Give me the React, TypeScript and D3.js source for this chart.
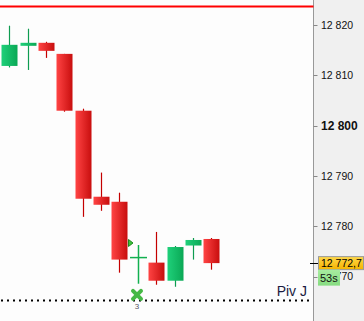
import React from "react";
import * as d3 from "d3";

const opens = [12811.9, 12815.9, 12816.5, 12814.3, 12803.0, 12785.9, 12784.9, 12773.7, 12772.8, 12769.2, 12776.2, 12777.5];
const highs = [12819.9, 12819.3, 12816.7, 12814.3, 12803.4, 12790.7, 12786.7, 12776.3, 12778.9, 12776.1, 12777.7, 12777.7];
const lows = [12811.6, 12811.1, 12813.5, 12802.8, 12781.9, 12783.1, 12770.8, 12768.6, 12768.4, 12768.0, 12773.4, 12771.4];
const closes = [12816.1, 12816.5, 12814.9, 12803.0, 12785.5, 12784.3, 12773.4, 12773.8, 12769.2, 12775.9, 12777.3, 12772.7];
const tickValues = [12770, 12780, 12790, 12800, 12810, 12820];
const tickLabels = ["12 770", "12 780", "12 790", "12 800", "12 810", "12 820"];
const boldTick = 12800;
const redLevel = 12823.7;
const pivotLevel = 12765.4;
const pivotLabel = "Piv J";
const lastPrice = 12772.7;
const lastPriceLabel = "12 772,7";
const timerLabel = "53s";
const signalIndex = 6; // green triangle marker
const crossIndex = 7; // X marker
const crossLabel = "3";

const W = 364;
const H = 321;
const axisX = 313.5;

export default function App() {
  const y = d3.scaleLinear().domain([12770, 12820]).range([276.7, 25.2]);
  const x = d3.scaleLinear().domain([0, 11]).range([9.3, 211.3]);
  const bw = 16;
  const cx = (i: number) => Math.round(x(i)) + 0.5;

  return (
    <svg
      width={W}
      height={H}
      style={{ position: "absolute", left: 0, top: 0, display: "block" }}
      fontFamily="'Liberation Sans', Arial, sans-serif"
    >
      <defs>
        <linearGradient id="gRed" x1="0" x2="1" y1="0" y2="0">
          <stop offset="0" stopColor="#ff4444" />
          <stop offset="1" stopColor="#c80e0e" />
        </linearGradient>
        <linearGradient id="gGreen" x1="0" x2="1" y1="0" y2="0">
          <stop offset="0" stopColor="#1fd07a" />
          <stop offset="1" stopColor="#0aa855" />
        </linearGradient>
        <linearGradient id="gYellow" x1="0" x2="0" y1="0" y2="1">
          <stop offset="0" stopColor="#ffd84a" />
          <stop offset="1" stopColor="#f4b400" />
        </linearGradient>
        <linearGradient id="gTimer" x1="0" x2="0" y1="0" y2="1">
          <stop offset="0" stopColor="#a8eca0" />
          <stop offset="1" stopColor="#86dc80" />
        </linearGradient>
      </defs>
      <rect x={0} y={0} width={W} height={H} fill="#fdfdfd" />
      <rect x={axisX} y={0} width={W - axisX} height={H} fill="#f0f0f0" />
      <line x1={axisX} x2={axisX} y1={0} y2={H} stroke="#999" strokeWidth={1} />

      {/* red resistance line */}
      <line x1={0} x2={axisX} y1={y(redLevel)} y2={y(redLevel)} stroke="#ff0000" strokeWidth={2} />

      {/* pivot dotted line */}
      <line
        x1={1}
        x2={310}
        y1={Math.round(y(pivotLevel)) + 0.5}
        y2={Math.round(y(pivotLevel)) + 0.5}
        stroke="#000"
        strokeWidth={2}
        strokeDasharray="2,4"
      />
      <text x={307} y={296} textAnchor="end" fontSize={14} fill="#1a1a40">
        {pivotLabel}
      </text>

      {/* candles */}
      {opens.map((o, i) => {
        const c = closes[i];
        const up = c >= o;
        const top = y(Math.max(o, c));
        const bot = y(Math.min(o, c));
        const h = Math.max(bot - top, 1);
        const xc = cx(i);
        const wick = up ? "#0e9c50" : "#c40000";
        if (Math.abs(c - o) < 0.2) {
          // doji cross
          return (
            <g key={i}>
              <line x1={xc} x2={xc} y1={y(highs[i])} y2={y(lows[i])} stroke="#12b050" strokeWidth={1.5} />
              <line x1={xc - 8.5} x2={xc + 8.5} y1={top} y2={top} stroke="#12b050" strokeWidth={1.5} />
            </g>
          );
        }
        return (
          <g key={i}>
            <line x1={xc} x2={xc} y1={y(highs[i])} y2={y(lows[i])} stroke={wick} strokeWidth={1.2} />
            <rect x={xc - bw / 2} y={top} width={bw} height={h} fill={up ? "url(#gGreen)" : "url(#gRed)"} />
          </g>
        );
      })}

      {/* signal triangle */}
      {(() => {
        const xs = cx(signalIndex) + bw / 2 + 1;
        const ys = y(12776.7);
        return (
          <path
            d={`M${xs},${ys - 3.5} L${xs + 4.5},${ys} L${xs},${ys + 3.5} Z`}
            fill="#3cc43c"
            stroke="#1e8a1e"
            strokeWidth={1}
          />
        );
      })()}

      {/* X marker */}
      {(() => {
        const xc = cx(crossIndex) - 1.5;
        const yc = y(pivotLevel) - 5;
        const r = 4;
        return (
          <g>
            <path
              d={`M${xc - r},${yc - r} L${xc + r},${yc + r} M${xc + r},${yc - r} L${xc - r},${yc + r}`}
              stroke="#44b844"
              strokeWidth={4}
              strokeLinecap="round"
            />
            <text x={xc} y={yc + 14} textAnchor="middle" fontSize={8} fill="#556">
              {crossLabel}
            </text>
          </g>
        );
      })()}

      {/* axis ticks and labels */}
      {tickValues.map((v, i) => (
        <g key={v}>
          <line x1={axisX} x2={axisX + 4} y1={Math.round(y(v)) + 0.5} y2={Math.round(y(v)) + 0.5} stroke="#888" />
          <text
            x={321}
            y={y(v)}
            dy="0.36em"
            fontSize={v === boldTick ? 12 : 10.5}
            fontWeight={v === boldTick ? "bold" : "normal"}
            fill="#111"
          >
            {tickLabels[i]}
          </text>
        </g>
      ))}

      {/* last price label */}
      <line x1={310} x2={318} y1={Math.round(y(lastPrice)) + 0.5} y2={Math.round(y(lastPrice)) + 0.5} stroke="#000" />
      <rect x={318.5} y={y(lastPrice) - 6.5} width={45} height={13} fill="url(#gYellow)" stroke="#999" />
      <text x={321} y={y(lastPrice)} dy="0.36em" fontSize={10.5} fill="#000">
        {lastPriceLabel}
      </text>
      <rect x={318} y={y(lastPrice) + 6.5} width={22} height={16} fill="url(#gTimer)" />
      <text x={320} y={y(lastPrice) + 14.5} dy="0.36em" fontSize={11} fill="#111">
        {timerLabel}
      </text>
    </svg>
  );
}
